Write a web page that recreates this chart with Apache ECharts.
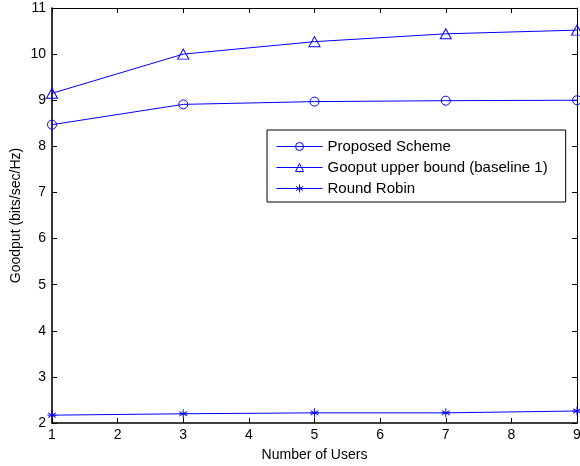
<!DOCTYPE html>
<html><head><meta charset="utf-8">
<script src="https://cdn.jsdelivr.net/npm/echarts@6/dist/echarts.min.js"></script>
<style>html,body{margin:0;padding:0;background:#fff}#c{width:580px;height:466px}</style>
</head><body><div id="c"></div>
<script>
var users = [1, 3, 5, 7, 9];
var proposed = [8.47, 8.91, 8.97, 8.99, 9.0];
var upperBound = [9.15, 10.0, 10.27, 10.44, 10.52];
var roundRobin = [2.17, 2.20, 2.22, 2.22, 2.26];
var xTicks = [1, 2, 3, 4, 5, 6, 7, 8, 9];
var yTicks = [2, 3, 4, 5, 6, 7, 8, 9, 10, 11];

function pairs(ys) { return users.map(function (x, i) { return [x, ys[i]]; }); }
var font = 'Liberation Sans, Arial, Helvetica, sans-serif';
var blue = '#0000ff';
var circle = 'path://M5,0A5,5 0 1 1 -5,0A5,5 0 1 1 5,0Z';
var tri = 'path://M0,-5L5,4L-5,4Z';
var star = 'path://M0,-5L0,5M-4.33,-2.5L4.33,2.5M-4.33,2.5L4.33,-2.5M-5,0L5,0';

var chart = echarts.init(document.getElementById('c'));
function ax(w) {
  return {
    type: 'value', min: 1, max: 9, interval: 1,
    axisLine: { show: true, lineStyle: { color: '#000', width: w } },
    axisTick: { show: true, inside: true, length: 5, lineStyle: { color: '#000' } },
    splitLine: { show: false }
  };
}
var sym = { color: 'rgba(0,0,0,0)', borderColor: blue, borderWidth: 1 };
chart.setOption({
  animation: false,
  grid: { left: 52, right: 3, top: 8, bottom: 43, outerBoundsMode: 'none', containLabel: false },
  legend: {
    data: ['Proposed Scheme', 'Gooput upper bound (baseline 1)', 'Round Robin'],
    orient: 'vertical', left: 267, top: 130,
    backgroundColor: '#fff', borderColor: '#000', borderWidth: 1,
    padding: [9, 18, 6, 9], itemGap: 6, itemWidth: 46, itemHeight: 10,
    lineStyle: { width: 1 }, itemStyle: { borderWidth: 1 },
    textStyle: { fontFamily: font, fontSize: 15, color: '#000' }
  },
  xAxis: [
    Object.assign(ax(1.6), {
      position: 'bottom',
      name: 'Number of Users', nameLocation: 'middle', nameGap: 25, nameMoveOverlap: false,
      nameTextStyle: { fontFamily: font, fontSize: 14, color: '#000' },
      axisLabel: { fontFamily: font, fontSize: 14, color: '#000', margin: 5 }
    }),
    Object.assign(ax(1), { position: 'top', axisLabel: { show: false } })
  ],
  yAxis: [
    Object.assign(ax(1.6), {
      min: 2, max: 11, position: 'left',
      name: 'Goodput (bits/sec/Hz)', nameLocation: 'middle', nameGap: 29, nameMoveOverlap: false,
      nameTextStyle: { fontFamily: font, fontSize: 14, color: '#000' },
      axisLabel: { fontFamily: font, fontSize: 14, color: '#000', margin: 6 }
    }),
    Object.assign(ax(1), { min: 2, max: 11, position: 'right', axisLabel: { show: false } })
  ],
  series: [
    { name: 'Proposed Scheme', type: 'line', data: pairs(proposed),
      symbol: circle, symbolSize: 9,
      lineStyle: { color: blue, width: 1 }, itemStyle: sym },
    { name: 'Gooput upper bound (baseline 1)', type: 'line', data: pairs(upperBound),
      symbol: tri, symbolSize: [11, 10],
      lineStyle: { color: blue, width: 1 }, itemStyle: sym },
    { name: 'Round Robin', type: 'line', data: pairs(roundRobin),
      symbol: star, symbolSize: 9,
      lineStyle: { color: blue, width: 1 }, itemStyle: sym }
  ]
});
</script></body></html>
